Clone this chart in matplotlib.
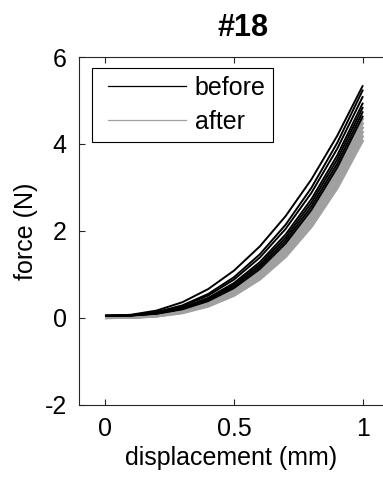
import matplotlib
matplotlib.use("Agg")
import matplotlib.pyplot as plt
from matplotlib.lines import Line2D
from matplotlib.legend_handler import HandlerLine2D

plt.rcParams["font.family"] = ["Liberation Sans", "DejaVu Sans"]
plt.rcParams["axes.unicode_minus"] = False

# displacement samples (mm)
displacement = [0.0, 0.1, 0.2, 0.3, 0.4, 0.5, 0.6, 0.7, 0.8, 0.9, 1.0]

# force (N) for each loading cycle before treatment
before = [
    [0.05, 0.074, 0.171, 0.363, 0.665, 1.090, 1.646, 2.342, 3.187, 4.188, 5.35],
    [0.05, 0.065, 0.136, 0.291, 0.553, 0.938, 1.464, 2.144, 2.994, 4.025, 5.25],
    [0.05, 0.063, 0.127, 0.272, 0.517, 0.884, 1.389, 2.048, 2.877, 3.890, 5.10],
    [0.05, 0.060, 0.114, 0.240, 0.463, 0.804, 1.284, 1.921, 2.732, 3.737, 4.95],
    [0.05, 0.059, 0.108, 0.226, 0.437, 0.764, 1.229, 1.851, 2.649, 3.643, 4.85],
    [0.05, 0.058, 0.102, 0.212, 0.412, 0.726, 1.175, 1.782, 2.567, 3.549, 4.75],
    [0.05, 0.056, 0.097, 0.199, 0.388, 0.688, 1.123, 1.714, 2.485, 3.457, 4.65],
]

# force (N) for each loading cycle after treatment
after = [
    [0.01, 0.019, 0.069, 0.188, 0.397, 0.716, 1.166, 1.762, 2.523, 3.464, 4.60],
    [0.01, 0.017, 0.060, 0.165, 0.356, 0.655, 1.085, 1.664, 2.414, 3.353, 4.50],
    [0.01, 0.016, 0.055, 0.152, 0.332, 0.619, 1.034, 1.598, 2.334, 3.261, 4.40],
    [0.01, 0.015, 0.051, 0.141, 0.312, 0.585, 0.986, 1.535, 2.259, 3.171, 4.30],
    [0.01, 0.015, 0.047, 0.131, 0.291, 0.553, 0.939, 1.474, 2.194, 3.081, 4.20],
    [0.01, 0.014, 0.043, 0.120, 0.272, 0.521, 0.893, 1.413, 2.104, 2.992, 4.10],
]

x_ticks = [0, 0.5, 1]
y_ticks = [-2, 0, 2, 4, 6]
series_labels = ["before", "after"]

BLACK = "#000000"
GRAY = "#a0a0a0"
SPINE = "#262626"


class InsetLine(HandlerLine2D):
    """Legend line that starts a little to the right of its handle box."""

    def __init__(self, inset, **kw):
        super().__init__(**kw)
        self.inset = inset

    def create_artists(self, legend, orig_handle, xdescent, ydescent,
                       width, height, fontsize, trans):
        artists = super().create_artists(legend, orig_handle, xdescent,
                                         ydescent, width, height, fontsize,
                                         trans)
        line = artists[0]
        xd = list(line.get_xdata())
        xd[0] = xd[0] + self.inset
        line.set_xdata(xd)
        return artists


fig = plt.figure(figsize=(3.83, 4.79), dpi=100)
ax = fig.add_axes([0.2068, 0.1545, 0.8582, 0.7265])

for f in after:
    ax.plot(displacement, f, color=GRAY, lw=2.2, solid_capstyle="butt", zorder=2)
for f in before:
    ax.plot(displacement, f, color=BLACK, lw=1.4, solid_capstyle="butt", zorder=3)

ax.set_xlim(-0.1, 1.174)
ax.set_ylim(-2, 6)
ax.set_xticks(x_ticks)
ax.set_xticklabels(["0", "0.5", "1"])
ax.set_yticks(y_ticks)
ax.tick_params(direction="in", top=True, right=False, length=4, width=0.8,
               color=SPINE, labelsize=18, pad=9)
ax.spines["right"].set_visible(False)
for s in ax.spines.values():
    s.set_linewidth(0.8)
    s.set_color(SPINE)

ax_w_px = 0.8582 * 383
ax.set_xlabel("displacement (mm)", fontsize=18)
ax.xaxis.set_label_coords((231.5 - 79.2) / ax_w_px, -0.118)
ax.set_ylabel("force (N)", fontsize=18)
ax.yaxis.set_label_coords((38 - 79.2) / ax_w_px, 0.5)
ax.set_title("#18", fontsize=22, fontweight="bold", pad=15)

handles = [Line2D([], [], color=BLACK, lw=0.9), Line2D([], [], color=GRAY, lw=0.9)]
leg = ax.legend(handles, series_labels, loc="upper left",
                bbox_to_anchor=((92 - 79.2) / ax_w_px, 0.968), fontsize=18,
                frameon=True, fancybox=False, edgecolor="#000000",
                framealpha=1, handlelength=3.46, handletextpad=0.35,
                labelspacing=0.42, borderpad=0.3, borderaxespad=0,
                handler_map={Line2D: InsetLine(6.1)})
leg.get_frame().set_linewidth(0.8)

fig.savefig("out.png", dpi=100)
